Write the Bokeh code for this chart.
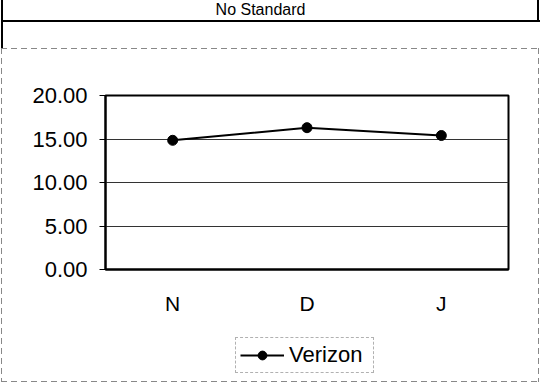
from bokeh.plotting import figure
from bokeh.layouts import column
from bokeh.models import (ColumnDataSource, FixedTicker, NumeralTickFormatter, Range1d,
                          Legend, LegendItem, Label)
from bokeh.embed import file_html
from bokeh.resources import INLINE

months = ["N", "D", "J"]
verizon = [14.85, 16.3, 15.4]
y_ticks = [0, 5, 10, 15, 20]
title_text = "No Standard"
series_name = "Verizon"

FONT = "Liberation Sans"
W = 540
FL, FR = 105, 508          # frame left / right in page pixels (shared by all rows)

def blank_fig(h, y_top, y_bot):
    f = figure(frame_width=FR - FL, height=h,
               x_range=Range1d(FL, FR), y_range=Range1d(y_bot, y_top),
               min_border_left=FL, min_border_right=W - FR,
               min_border_top=0, min_border_bottom=0,
               x_axis_location=None, y_axis_location=None,
               output_backend="svg", toolbar_location=None,
               background_fill_color=None, border_fill_color=None)
    f.outline_line_color = None
    f.grid.visible = False
    return f

# ---- title row (page pixels 0..48) ----
top = blank_fig(48, 0, 48)
top.add_layout(Label(x=260, y=0, text=title_text, text_align="center",
                     text_baseline="top", text_font=FONT,
                     text_font_size="16px", text_color="black"))

# ---- chart (page pixels 48..320) ----
src = ColumnDataSource(dict(m=months, v=verizon))
fig = figure(x_range=months, y_range=Range1d(0, 20),
             frame_width=FR - FL, frame_height=174,
             min_border_left=FL, min_border_right=W - FR,
             min_border_top=47, min_border_bottom=51,
             output_backend="svg", toolbar_location=None,
             background_fill_color="white", border_fill_color=None)
fig.outline_line_color = "black"
fig.outline_line_width = 2

fig.yaxis.ticker = FixedTicker(ticks=y_ticks)
fig.yaxis.formatter = NumeralTickFormatter(format="0.00")
fig.yaxis.major_tick_out = 6
fig.yaxis.major_tick_in = 0
fig.yaxis.minor_tick_line_color = None
fig.yaxis.major_label_standoff = 12
fig.yaxis.axis_line_width = 2
fig.yaxis.major_label_text_font = FONT
fig.yaxis.major_label_text_font_size = "22px"
fig.yaxis.major_label_text_color = "black"

fig.xaxis.major_tick_out = 0
fig.xaxis.major_tick_in = 0
fig.xaxis.major_tick_line_color = None
fig.xaxis.minor_tick_line_color = None
fig.xaxis.axis_line_width = 2
fig.xaxis.major_label_standoff = 22
fig.xaxis.major_label_text_font = FONT
fig.xaxis.major_label_text_font_size = "21px"
fig.xaxis.major_label_text_color = "black"

fig.xgrid.grid_line_color = None
fig.ygrid.ticker = FixedTicker(ticks=[5, 10, 15])
fig.ygrid.grid_line_color = "#333333"
fig.ygrid.grid_line_width = 1

fig.line("m", "v", source=src, line_color="black", line_width=2)
fig.scatter("m", "v", source=src, size=10, marker="circle",
            fill_color="black", line_color="black")

# ---- legend row (page pixels 320..383) ----
bot = blank_fig(63, 320, 383)
# proxy renderers (kept outside the visible range) that only style the legend key
proxy = ColumnDataSource(dict(x=[-1000, -999], y=[-1000, -1000]))
lg_line = bot.line("x", "y", source=proxy, line_color="black", line_width=2)
lg_pt = bot.scatter("x", "y", source=proxy, size=7, marker="circle",
                    fill_color="black", line_color="black")
legend = Legend(items=[LegendItem(label=series_name, renderers=[lg_line, lg_pt])],
                location=(235 - FL, 10), orientation="vertical",
                padding=4, margin=0, spacing=0,
                glyph_width=44, glyph_height=22, label_height=22,
                label_width=80, label_standoff=5,
                label_text_font=FONT, label_text_font_size="22px",
                label_text_color="black",
                border_line_color="#666666", border_line_width=1,
                border_line_dash="3 2",
                background_fill_color="white", background_fill_alpha=1)
bot.add_layout(legend, "center")

p = column(top, fig, bot, spacing=0)

# table-like cell borders of the original sheet, painted behind the canvases
dash_h = "repeating-linear-gradient(to right,#888 0 6px,transparent 6px 10px)"
dash_v = "repeating-linear-gradient(to bottom,#888 0 6px,transparent 6px 10px)"
solid = "linear-gradient(#000,#000)"
layers = [
    (solid, "2px 48px", "1px 0px"),
    (solid, "2px 21px", "537px 0px"),
    (solid, "539px 2px", "1px 20px"),
    (dash_h, "539px 1px", "1px 48px"),
    (dash_v, "1px 334px", "1px 48px"),
    (dash_v, "1px 334px", "538px 48px"),
    (dash_h, "539px 1px", "1px 381px"),
]
p.styles = {
    "background-color": "white",
    "background-image": ",".join(l[0] for l in layers),
    "background-size": ",".join(l[1] for l in layers),
    "background-position": ",".join(l[2] for l in layers),
    "background-repeat": "no-repeat",
}

open("out.html", "w").write(file_html(p, INLINE))
